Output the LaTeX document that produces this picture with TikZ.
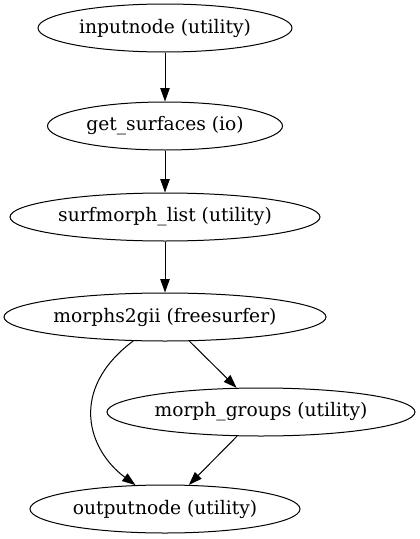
\documentclass[tikz,border=0pt]{standalone}
\usepackage{fontspec}
\setmainfont{DejaVu Serif}
\usetikzlibrary{shapes.geometric,arrows.meta}
\begin{document}
\begin{tikzpicture}[x=0.75pt,y=-0.75pt,
  gnode/.style={draw,ellipse,inner sep=0pt,minimum height=36pt,line width=0.75pt,font=\fontsize{14}{16}\selectfont},
  edge/.style={line width=0.75pt,-{Triangle[length=10pt,width=7pt]}}]
\useasboundingbox (0,0) rectangle (420,539);
\node[gnode,minimum width=190.5pt] (in) at (165,28) {inputnode (utility)};
\node[gnode,minimum width=176.25pt] (gs) at (165,126) {get\_surfaces (io)};
\node[gnode,minimum width=232.5pt] (sl) at (165,217) {surfmorph\_list (utility)};
\node[gnode,minimum width=241.5pt] (m2g) at (165,317) {morphs2gii (freesurfer)};
\node[gnode,minimum width=231pt] (mg) at (261,412) {morph\_groups (utility)};
\node[gnode,minimum width=202.5pt] (out) at (165,509) {outputnode (utility)};
\draw[edge] (in) -- (gs);
\draw[edge] (gs) -- (sl);
\draw[edge] (sl) -- (m2g);
\draw[edge] (m2g) -- (mg);
\draw[edge] (m2g.217) .. controls (68,390) and (88,450) .. (out.141);
\draw[edge] (mg) -- (out);
\end{tikzpicture}
\end{document}
